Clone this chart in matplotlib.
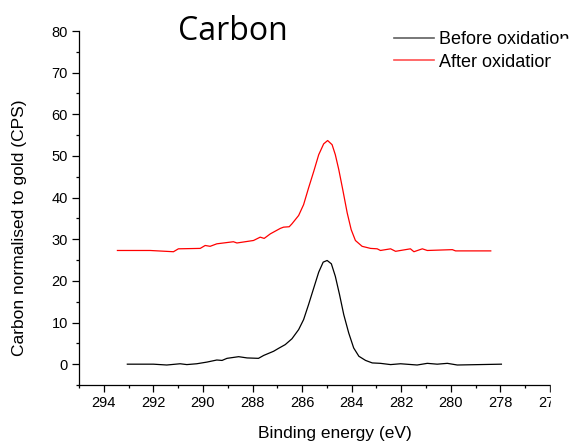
import matplotlib
matplotlib.use("Agg")
import matplotlib.pyplot as plt
from matplotlib.lines import Line2D
from matplotlib.patches import Rectangle
from matplotlib.ticker import MultipleLocator

# ---- data (binding energy in eV, counts normalised to gold) ----
before_energy = [293.05, 292.0, 291.46, 290.92, 290.65, 290.25, 289.84, 289.44, 289.23,
                 289.03, 288.56, 288.22, 287.76, 287.55, 287.15, 286.95, 286.68, 286.41,
                 286.14, 285.94, 285.74, 285.53, 285.33, 285.15, 284.99, 284.82, 284.66,
                 284.49, 284.32, 284.12, 283.92, 283.71, 283.44, 283.17, 282.84, 282.43,
                 282.03, 281.36, 280.95, 280.55, 280.14, 279.74, 277.96]
before_counts = [0.0, 0.0, -0.2, 0.1, -0.1, 0.1, 0.5, 1.0, 0.9,
                 1.4, 1.8, 1.5, 1.4, 2.1, 3.1, 3.8, 4.7, 6.1,
                 8.3, 10.7, 14.3, 18.3, 22.1, 24.5, 24.9, 24.1, 21.1,
                 16.7, 11.9, 7.5, 3.9, 1.9, 0.9, 0.3, 0.2, -0.1,
                 0.1, -0.2, 0.2, 0.0, 0.2, -0.2, 0.0]

after_energy = [293.45, 292.13, 291.19, 290.99, 290.11, 289.91, 289.71, 289.44, 288.77,
                288.63, 287.96, 287.69, 287.53, 287.28, 286.88, 286.75, 286.52, 286.41,
                286.14, 285.94, 285.74, 285.53, 285.33, 285.13, 284.97, 284.79, 284.66,
                284.52, 284.36, 284.18, 284.02, 283.85, 283.58, 283.24, 282.97, 282.84,
                282.43, 282.23, 281.63, 281.49, 281.15, 280.95, 279.94, 279.81, 278.39]
after_counts = [27.3, 27.3, 27.0, 27.7, 27.8, 28.5, 28.3, 28.9, 29.4,
                29.1, 29.7, 30.5, 30.2, 31.3, 32.6, 32.9, 33.0, 33.7,
                35.7, 38.3, 42.3, 46.3, 50.3, 52.9, 53.7, 52.7, 50.3,
                46.7, 41.9, 36.3, 32.3, 29.7, 28.3, 27.8, 27.7, 27.3,
                27.7, 27.1, 27.7, 27.0, 27.7, 27.3, 27.5, 27.2, 27.2]

labels = ["Before oxidation", "After oxidation"]

FONT = "Liberation Sans"
W, H = 572, 444

fig = plt.figure(figsize=(5.72, 4.44), dpi=100)
ax = fig.add_axes([79 / W, 59 / H, 471 / W, 354 / H])

ax.plot(before_energy, before_counts, color="black", lw=0.9)
ax.plot(after_energy, after_counts, color="red", lw=0.9)

ax.set_xlim(295, 276)
ax.set_ylim(-5, 80)
ax.xaxis.set_major_locator(MultipleLocator(2))
ax.xaxis.set_minor_locator(MultipleLocator(1))
ax.yaxis.set_minor_locator(MultipleLocator(5))
ax.set_yticks(range(0, 81, 10))

for side in ["top", "right"]:
    ax.spines[side].set_visible(False)
for side in ["left", "bottom"]:
    ax.spines[side].set_linewidth(0.9)

ax.tick_params(which="major", direction="out", length=5, width=0.9, labelsize=10.5, pad=3)
ax.tick_params(which="minor", direction="out", length=2.5, width=0.9)
for lab in ax.get_xticklabels() + ax.get_yticklabels():
    lab.set_fontfamily(FONT)

# axis titles placed where the reference has them
fig.text(335 / W, 1 - 433 / H, "Binding energy (eV)", fontsize=12.5, family=FONT,
         ha="center", va="center")
fig.text(20 / W, 1 - 228 / H, "Carbon normalised to gold (CPS)", fontsize=12.5, family=FONT,
         ha="center", va="center", rotation=90)

fig.text(233 / W, 1 - 32 / H, "Carbon", fontsize=23, family="Open Sans",
         ha="center", va="center")

handles = [Line2D([], [], color="#606060", lw=1.2), Line2D([], [], color="#ff5050", lw=1.2)]
fig.legend(handles, labels, loc="upper left", bbox_to_anchor=(394 / W, 1 - 31 / H),
           frameon=False, borderpad=0, borderaxespad=0, handlelength=2.2,
           handletextpad=0.3, labelspacing=0.32, prop={"family": FONT, "size": 13})

# the reference screenshot is cut off on the right
fig.patches.append(Rectangle((551 / W, 0), 21 / W, 1 - 44 / H,
                             transform=fig.transFigure, color="white", zorder=10))
fig.patches.append(Rectangle((559 / W, 0), 13 / W, 1 - 39 / H,
                             transform=fig.transFigure, color="white", zorder=10))

fig.savefig("out.png", dpi=100)
